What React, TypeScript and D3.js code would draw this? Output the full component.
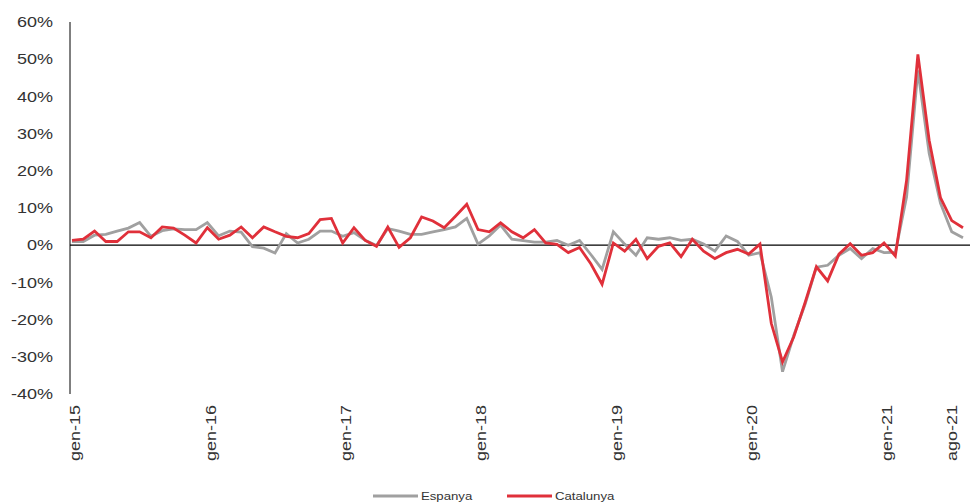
import React from 'react';
import * as d3 from 'd3';

// monthly, gen-15 .. ago-21 (80 months), year-on-year change in %
const espanya = [
  1.0, 1.0, 2.7, 2.9, 3.8, 4.6, 6.1, 2.4, 3.9, 4.4, 4.2, 4.2,
  6.1, 2.5, 3.8, 3.5, -0.4, -0.8, -2.1, 3.1, 0.6, 1.6, 3.8, 3.8,
  2.4, 3.4, 1.3, -0.1, 4.5, 3.8, 2.9, 2.9, 3.6, 4.2, 4.9, 7.2,
  0.3, 2.5, 5.4, 1.6, 1.2, 0.8, 0.8, 1.3, 0.0, 1.3, -2.5, -6.5,
  3.6, 0.3, -2.7, 2.0, 1.6, 2.0, 1.3, 1.6, 0.3, -1.6, 2.5, 1.0,
  -2.7, -2.0, -13.9, -34.0, -24.2, -15.9, -5.9, -5.4, -2.7, -0.9, -3.6, -0.9,
  -2.0, -1.9, 13.0, 47.0, 24.7, 11.3, 3.6, 2.0,
];

const catalunya = [
  1.3, 1.6, 3.8, 1.0, 1.0, 3.6, 3.6, 2.0, 4.9, 4.6, 2.7, 0.6,
  4.7, 1.6, 2.7, 4.9, 2.0, 4.9, 3.6, 2.4, 2.0, 3.1, 6.9, 7.2,
  0.6, 4.7, 1.3, -0.3, 4.9, -0.6, 2.0, 7.6, 6.5, 4.7, 7.8, 11.0,
  4.2, 3.6, 6.0, 3.6, 2.0, 4.2, 0.6, 0.2, -2.0, -0.6, -5.0, -10.5,
  0.6, -1.6, 1.6, -3.6, -0.3, 0.6, -3.1, 1.6, -1.6, -3.6, -2.0, -1.1,
  -2.4, 0.3, -21.0, -31.4, -24.6, -15.4, -5.8, -9.6, -2.4, 0.4, -2.7, -2.0,
  0.6, -2.9, 17.5, 51.3, 28.2, 12.8, 6.6, 4.7,
];

const xTickIndex = [0, 12, 24, 36, 48, 60, 72, 79];
const xTickLabels = ['gen-15', 'gen-16', 'gen-17', 'gen-18', 'gen-19', 'gen-20', 'gen-21', 'ago-21'];
const yTicks = [-40, -30, -20, -10, 0, 10, 20, 30, 40, 50, 60];

const seriesNames = ['Espanya', 'Catalunya'];
const seriesColors = ['#a0a0a0', '#e0303a'];

const W = 974;
const H = 504;
const FONT = '"Liberation Sans", Arial, sans-serif';

export default function App() {
  const x = d3.scaleLinear().domain([0, espanya.length - 1]).range([72, 963]);
  const y = d3.scaleLinear().domain([-40, 60]).range([394, 22]);

  const line = d3.line<number>()
    .x((_, i) => x(i))
    .y(d => y(d));

  const series = [espanya, catalunya];

  return (
    <div style={{ position: 'absolute', left: 0, top: 0 }}>
      <svg width={W} height={H} style={{ display: 'block', background: '#fff' }} fontFamily={FONT}>
        {/* y axis */}
        <line x1={70} x2={70} y1={y(60)} y2={y(-40)} stroke="#000" strokeWidth={1} />
        {yTicks.map(t => (
          <g key={t} transform={`translate(53,${y(t)}) scale(1.2,1)`}>
            <text textAnchor="end" dy="0.35em" fontSize={15} fill="#333">{t}%</text>
          </g>
        ))}

        {/* x labels */}
        {xTickIndex.map((idx, k) => {
          const px = Math.min(x(idx) + 3, W - 22);
          return (
            <g key={idx} transform={`translate(${px},405) rotate(-90) scale(1.2,1)`}>
              <text textAnchor="end" dy="0.35em" fontSize={15} fill="#333">{xTickLabels[k]}</text>
            </g>
          );
        })}

        {/* zero line */}
        <line x1={70} x2={970} y1={y(0)} y2={y(0)} stroke="#000" strokeWidth={1.2} />

        {series.map((s, k) => (
          <path key={k} d={line(s) || ''} fill="none" stroke={seriesColors[k]} strokeWidth={2.8} strokeLinejoin="miter" />
        ))}

        {/* legend */}
        {seriesNames.map((name, k) => {
          const lx = k === 0 ? 373 : 507;
          return (
            <g key={name}>
              <line x1={lx} x2={lx + 45} y1={496} y2={496} stroke={seriesColors[k]} strokeWidth={2.8} />
              <g transform={`translate(${lx + 48},496) scale(1.2,1)`}>
                <text dy="0.35em" fontSize={11} fill="#333">{name}</text>
              </g>
            </g>
          );
        })}
      </svg>
    </div>
  );
}
